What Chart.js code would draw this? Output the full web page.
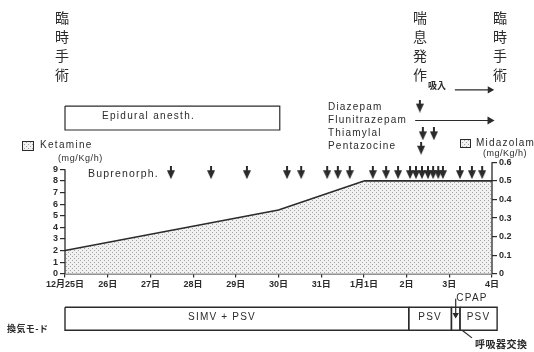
<!DOCTYPE html>
<html lang="ja">
<head>
<meta charset="UTF-8">
<title>Ketamine / Midazolam 投与経過</title>
<script src="https://cdn.jsdelivr.net/npm/chart.js"></script>
<style>
    body { margin: 0; background: #fff; }
    #wrap { width: 534px; height: 352px; position: relative; }
</style>
</head>
<body>
<div id="wrap"><canvas id="chart"></canvas></div>
<script>
// 日付 (x = 12月25日からの日数)
const dayLabels = ['12月25日', '26日', '27日', '28日', '29日', '30日', '31日', '1月1日', '2日', '3日', '4日'];
const ketamineTicks = [0, 1, 2, 3, 4, 5, 6, 7, 8, 9];
const midazolamTicks = [0, 0.1, 0.2, 0.3, 0.4, 0.5, 0.6];

const ketamineDays = [0, 5, 7];
const ketamineDose = [2.0, 5.5, 8.0];
const midazolamDays = [7, 10];
const midazolamDose = [0.5, 0.5];

const buprenorphDays = [2.48, 3.42, 4.26, 5.20, 5.53, 6.14, 6.39, 6.67, 7.21, 7.52, 7.80,
    8.08, 8.22, 8.36, 8.50, 8.62, 8.74, 8.85, 9.25, 9.53, 9.77];
const diazepamDays = [8.31];
const thiamylalDays = [8.38, 8.64];
const pentazocineDays = [8.34];
const flunitrazepamSpan = [8.2, 9.95];
const inhalationSpan = [9.13, 9.95];
const epiduralSpan = [0, 5.03];

const ventModes = ['SIMV + PSV', 'PSV', '', 'PSV'];
const ventStart = [0, 8.05, 9.05, 9.25];
const ventEnd = [8.05, 9.05, 9.25, 10.12];
const cpapDay = 9.15;

const ink = '#2b2b2b';
const LAT = "'Liberation Sans', Arial, sans-serif";
const CJK = "'Noto Sans CJK JP', sans-serif";

// 点描パターン
function dotPattern() {
    const t = document.createElement('canvas');
    t.width = 4; t.height = 4;
    const g = t.getContext('2d');
    g.fillStyle = '#f1f1f1';
    g.fillRect(0, 0, 4, 4);
    g.fillStyle = '#a2a2a2';
    g.fillRect(0, 0, 1, 1);
    g.fillRect(2, 2, 1, 1);
    return g.createPattern(t, 'repeat');
}
const dots = dotPattern();

// 下向き矢印
function arrowGlyph() {
    const c = document.createElement('canvas');
    c.width = 8; c.height = 13;
    const g = c.getContext('2d');
    g.fillStyle = ink;
    g.fillRect(3, 0, 2, 6);
    g.beginPath();
    g.moveTo(0, 4); g.lineTo(8, 4); g.lineTo(4, 13);
    g.closePath();
    g.fill();
    return c;
}
const arrow = arrowGlyph();

const pts = (xs, ys) => xs.map((x, i) => ({ x, y: Array.isArray(ys) ? ys[i] : ys }));
const rect = (x0, x1, y0, y1) => [{ x: x0, y: y0 }, { x: x1, y: y0 }, { x: x1, y: y1 }, { x: x0, y: y1 }, { x: x0, y: y0 }];

// 行の高さ (左軸の値で)
const rowBup = 8.71, rowDia = 14.45, rowFlu = 13.21, rowThi = 12.06, rowPen = 10.82, rowInh = 15.85;
const epiTop = 14.45, epiBot = 12.39, ventTop = -2.89, ventBot = -4.87;

const plain = { showLine: true, pointRadius: 0, borderColor: ink, borderWidth: 1.2, fill: false, clip: false };
const marks = { showLine: false, pointStyle: arrow, pointRadius: 5, clip: false };

const datasets = [
    { ...plain, data: pts(ketamineDays, ketamineDose), fill: 'origin', backgroundColor: dots, borderWidth: 1.6 },
    { ...plain, data: pts(midazolamDays, midazolamDose), yAxisID: 'y2', fill: 'origin', backgroundColor: dots, borderWidth: 1.6 },
    { ...marks, data: pts(buprenorphDays, rowBup) },
    { ...marks, data: pts(diazepamDays, rowDia) },
    { ...marks, data: pts(thiamylalDays, rowThi) },
    { ...marks, data: pts(pentazocineDays, rowPen) },
    { ...plain, data: pts(flunitrazepamSpan, rowFlu), pointStyle: 'triangle', pointRotation: 90,
      pointRadius: [0, 3.5], pointBackgroundColor: ink, pointBorderColor: ink },
    { ...plain, data: pts(inhalationSpan, rowInh), pointStyle: 'triangle', pointRotation: 90,
      pointRadius: [0, 3], pointBackgroundColor: ink, pointBorderColor: ink },
    { ...plain, data: rect(epiduralSpan[0], epiduralSpan[1], epiTop, epiBot) },
    ...ventStart.map((s, i) => ({ ...plain, borderWidth: 1.4, data: rect(s, ventEnd[i], ventTop, ventBot) })),
    { ...plain, data: [{ x: cpapDay, y: -2.15 }, { x: cpapDay, y: -3.55 }], pointStyle: 'triangle', pointRotation: 180,
      pointRadius: [0, 2.5], pointBackgroundColor: ink, pointBorderColor: ink },
    { ...plain, data: [{ x: 9.30, y: ventBot }, { x: 9.53, y: -5.53 }] }
];

function put(ctx, s, x, y, font, align, ls) {
    ctx.font = font;
    ctx.textAlign = align || 'left';
    ctx.letterSpacing = ls || '0px';
    ctx.fillText(s, x, y);
}

const notes = {
    id: 'notes',
    afterDraw(chart) {
        const ctx = chart.ctx;
        const { x, y, y2 } = chart.scales;
        const area = chart.chartArea;
        ctx.save();
        ctx.strokeStyle = ink;
        ctx.fillStyle = ink;
        ctx.lineWidth = 1.3;
        // 軸線
        ctx.beginPath();
        ctx.moveTo(area.left, y.getPixelForValue(0));
        ctx.lineTo(area.left, y.getPixelForValue(9));
        ctx.moveTo(area.right, y2.getPixelForValue(0));
        ctx.lineTo(area.right, y2.getPixelForValue(0.6));
        ctx.stroke();

        ctx.textBaseline = 'middle';
        const rowsY = [18, 37, 56, 75];
        [['臨時手術', 62], ['喘息発作', 420], ['臨時手術', 500]].forEach(([w, cx]) => {
            [...w].forEach((ch, i) => put(ctx, ch, cx, rowsY[i], '14px ' + CJK, 'center'));
        });
        put(ctx, '吸入', 437, 86, 'bold 9px ' + CJK, 'center');
        put(ctx, 'Epidural anesth.', 102, 116, '10px ' + LAT, 'left', '1.3px');
        put(ctx, 'Diazepam', 328, 107, '10px ' + LAT, 'left', '1.2px');
        put(ctx, 'Flunitrazepam', 328, 120, '10px ' + LAT, 'left', '1.2px');
        put(ctx, 'Thiamylal', 328, 133, '10px ' + LAT, 'left', '1.2px');
        put(ctx, 'Pentazocine', 328, 146, '10px ' + LAT, 'left', '1.2px');
        put(ctx, 'Ketamine', 40, 145, '10px ' + LAT, 'left', '1.3px');
        put(ctx, '(mg/Kg/h)', 58, 159, '9px ' + LAT, 'left', '0.6px');
        put(ctx, 'Buprenorph.', 88, 174, '10.5px ' + LAT, 'left', '1.2px');
        put(ctx, 'Midazolam', 476, 143, '10px ' + LAT, 'left', '1.2px');
        put(ctx, '(mg/Kg/h)', 483, 154, '9px ' + LAT, 'left', '0.5px');
        put(ctx, '換気モ-ド', 7, 329, 'bold 9px ' + CJK, 'left', '0.4px');
        const ventMid = y.getPixelForValue((ventTop + ventBot) / 2);
        ventModes.forEach((m, i) => {
            if (!m) return;
            const cx = i === 0 ? 222 : (x.getPixelForValue(ventStart[i]) + x.getPixelForValue(ventEnd[i])) / 2;
            put(ctx, m, cx, ventMid - 1, '10px ' + LAT, 'center', '1.2px');
        });
        put(ctx, 'CPAP', 472, 298, '10px ' + LAT, 'center', '1.3px');
        put(ctx, '呼吸器交換', 475, 344, 'bold 10px ' + CJK, 'left', '0.5px');

        // 凡例の箱
        ctx.lineWidth = 1;
        ctx.fillStyle = dots;
        [[22, 141, 11, 9], [460, 139, 10, 8]].forEach(([bx, by, bw, bh]) => {
            ctx.fillRect(bx, by, bw, bh);
            ctx.strokeRect(bx + 0.5, by + 0.5, bw, bh);
        });
        ctx.restore();
    }
};

const tickFont = { family: LAT, size: 9, weight: 'bold' };

new Chart(document.getElementById('chart'), {
    type: 'line',
    data: { datasets },
    options: {
        responsive: true,
        maintainAspectRatio: false,
        animation: false,
        events: [],
        layout: { padding: 0 },
        plugins: { legend: { display: false }, tooltip: { enabled: false } },
        scales: {
            x: {
                type: 'linear',
                position: { y: 0 },
                min: 0,
                max: 10,
                afterFit: s => { s.height = 0; },
                afterBuildTicks: s => { s.ticks = dayLabels.map((_, i) => ({ value: i })); },
                border: { display: true, color: ink, width: 1.4 },
                grid: { drawOnChartArea: false, tickLength: 3, color: ink, lineWidth: 1.2 },
                ticks: {
                    autoSkip: false, maxRotation: 0, padding: 2, color: ink,
                    font: { family: LAT + ", 'Noto Sans CJK JP'", size: 9, weight: 'bold' },
                    callback: (v, i) => dayLabels[i]
                }
            },
            y: {
                type: 'linear',
                position: 'left',
                min: -6.11,
                max: 22.96,
                afterFit: s => { s.width = 65; },
                afterBuildTicks: s => { s.ticks = ketamineTicks.map(v => ({ value: v })); },
                border: { display: false },
                grid: { drawOnChartArea: false, tickLength: 5, color: ink, lineWidth: 1.2 },
                ticks: { autoSkip: false, padding: 2, color: ink, font: tickFont, callback: v => String(v) }
            },
            y2: {
                type: 'linear',
                position: 'right',
                min: -0.3818,
                max: 1.4345,
                afterFit: s => { s.width = 42; },
                afterBuildTicks: s => { s.ticks = midazolamTicks.map(v => ({ value: v })); },
                border: { display: false },
                grid: { drawOnChartArea: false, tickLength: 5, color: ink, lineWidth: 1.2 },
                ticks: { autoSkip: false, padding: 2, color: ink, font: tickFont,
                    callback: v => (v === 0 ? '0' : v.toFixed(1)) }
            }
        }
    },
    plugins: [notes]
});
</script>
</body>
</html>
